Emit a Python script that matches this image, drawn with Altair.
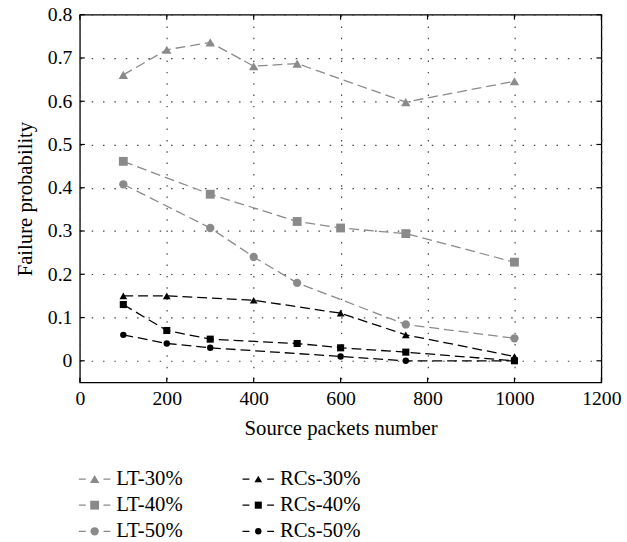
import altair as alt
import pandas as pd

series_names = ["LT-30%", "LT-40%", "LT-50%", "RCs-30%", "RCs-40%", "RCs-50%"]
series_colors = ["#8a8a8a", "#8a8a8a", "#8a8a8a", "#000000", "#000000", "#000000"]
series_shapes = ["triangle-up", "square", "circle", "triangle-up", "square", "circle"]
marker_sizes = [90, 42, 48, 90, 42, 48]
legend_sizes = [110, 60, 70, 110, 60, 70]

x_lt30 = [100, 200, 300, 400, 500, 750, 1000]
y_lt30 = [0.661, 0.719, 0.736, 0.681, 0.687, 0.598, 0.646]
x_lt40 = [100, 300, 500, 600, 750, 1000]
y_lt40 = [0.461, 0.385, 0.322, 0.307, 0.294, 0.228]
x_lt50 = [100, 300, 400, 500, 750, 1000]
y_lt50 = [0.408, 0.307, 0.240, 0.180, 0.084, 0.052]
x_rc30 = [100, 200, 400, 600, 750, 1000]
y_rc30 = [0.15, 0.15, 0.14, 0.11, 0.06, 0.01]
x_rc40 = [100, 200, 300, 500, 600, 750, 1000]
y_rc40 = [0.13, 0.07, 0.05, 0.04, 0.03, 0.02, 0.0]
x_rc50 = [100, 200, 300, 600, 750, 1000]
y_rc50 = [0.06, 0.04, 0.03, 0.01, 0.0, 0.0]

x_domain = [0, 1200]
y_domain = [-0.05, 0.8]
x_ticks = [0, 200, 400, 600, 800, 1000, 1200]
y_ticks = [0, 0.1, 0.2, 0.3, 0.4, 0.5, 0.6, 0.7, 0.8]

legend_col = [0, 0, 0, 1, 1, 1]
legend_row = [0, 1, 2, 0, 1, 2]

FONT = "Liberation Serif"

xs = [x_lt30, x_lt40, x_lt50, x_rc30, x_rc40, x_rc50]
ys = [y_lt30, y_lt40, y_lt50, y_rc30, y_rc40, y_rc50]
rows = []
for name, xv, yv in zip(series_names, xs, ys):
    for a, b in zip(xv, yv):
        rows.append({"series": name, "x": a, "y": b})
df = pd.DataFrame(rows)

color_scale = alt.Scale(domain=series_names, range=series_colors)
shape_scale = alt.Scale(domain=series_names, range=series_shapes)
size_scale = alt.Scale(domain=series_names, range=marker_sizes)

x_axis = alt.Axis(
    values=x_ticks, title="Source packets number", grid=True, format="d",
    gridDash=[1.5, 10], gridColor="#444", gridWidth=1.2,
    ticks=False, domain=False, labelFontSize=20, labelFont=FONT,
    labelColor="#000", titleFont=FONT, titleFontSize=21,
    titleFontWeight="normal", titleColor="#000", labelPadding=6,
    titlePadding=10, labelFlush=False,
)
y_axis = alt.Axis(
    values=y_ticks, title="Failure probability", grid=True,
    gridDash=[1.5, 10], gridColor="#444", gridWidth=1.2,
    ticks=False, domain=False, labelFontSize=20, labelFont=FONT,
    labelColor="#000", titleFont=FONT, titleFontSize=21,
    titleFontWeight="normal", titleColor="#000", labelPadding=8,
    titlePadding=12, labelFlush=False,
    labelExpr="datum.value == 0 ? '0' : format(datum.value, '.1f')",
)
x_scale = alt.Scale(domain=x_domain, nice=False)
y_scale = alt.Scale(domain=y_domain, nice=False, zero=False)


def X():
    return alt.X("x:Q", scale=x_scale, axis=x_axis)


def Y():
    return alt.Y("y:Q", scale=y_scale, axis=y_axis)


base = alt.Chart(df).encode(x=X(), y=Y())
lines = base.mark_line(strokeDash=[10, 5], strokeWidth=1.3).encode(
    color=alt.Color("series:N", scale=color_scale, legend=None),
    detail="series:N",
)
points = base.mark_point(filled=True, opacity=1).encode(
    color=alt.Color("series:N", scale=color_scale, legend=None),
    shape=alt.Shape("series:N", scale=shape_scale, legend=None),
    size=alt.Size("series:N", scale=size_scale, legend=None),
)

# inward frame ticks
n_y = len(y_ticks)
n_x = len(x_ticks)
left_t = alt.Chart(pd.DataFrame({"y": y_ticks, "x": [x_domain[0]] * n_y})).mark_rule(
    x2Offset=5, color="#000", strokeWidth=1.2).encode(x=X(), x2="x:Q", y=Y())
right_t = alt.Chart(pd.DataFrame({"y": y_ticks, "x": [x_domain[1]] * n_y})).mark_rule(
    x2Offset=-5, color="#000", strokeWidth=1.2).encode(x=X(), x2="x:Q", y=Y())
bottom_t = alt.Chart(pd.DataFrame({"x": x_ticks, "y": [y_domain[0]] * n_x})).mark_rule(
    y2Offset=-5, color="#000", strokeWidth=1.2).encode(x=X(), y=Y(), y2="y:Q")
top_t = alt.Chart(pd.DataFrame({"x": x_ticks, "y": [y_domain[1]] * n_x})).mark_rule(
    y2Offset=5, color="#000", strokeWidth=1.2).encode(x=X(), y=Y(), y2="y:Q")

main = alt.layer(lines, points, left_t, right_t, bottom_t, top_t).properties(
    width=529, height=373,
    view=alt.ViewBackground(stroke="#000", strokeWidth=1.3),
)

leg_df = pd.DataFrame({"series": series_names, "col": legend_col, "row": legend_row})
lbase = alt.Chart(leg_df).encode(
    x=alt.X("col:Q", scale=alt.Scale(domain=[0, 1], range=[15, 181]), axis=None),
    y=alt.Y("row:Q", scale=alt.Scale(domain=[0, 2], range=[10, 63]), axis=None),
)
ldash = lbase.mark_rule(xOffset=-16, x2Offset=16, strokeDash=[7, 18, 7], strokeWidth=1.3).encode(
    x2="col:Q",
    color=alt.Color("series:N", scale=color_scale, legend=None),
)
lpts = lbase.mark_point(filled=True, opacity=1).encode(
    color=alt.Color("series:N", scale=color_scale, legend=None),
    shape=alt.Shape("series:N", scale=shape_scale, legend=None),
    size=alt.Size("series:N", scale=alt.Scale(domain=series_names, range=legend_sizes), legend=None),
)
ltxt = lbase.mark_text(align="left", baseline="middle", dx=22, font=FONT, fontSize=21, color="#000").encode(
    text="series:N"
)
legend = alt.layer(ldash, lpts, ltxt).properties(
    width=300, height=70,
    view=alt.ViewBackground(strokeOpacity=0),
)

chart = alt.vconcat(main, legend, spacing=29).properties(
    padding={"left": 14, "top": 0, "right": 5, "bottom": 0},
    background="#ffffff",
)

chart.save("out.html", embed_options={"renderer": "svg", "actions": False})
